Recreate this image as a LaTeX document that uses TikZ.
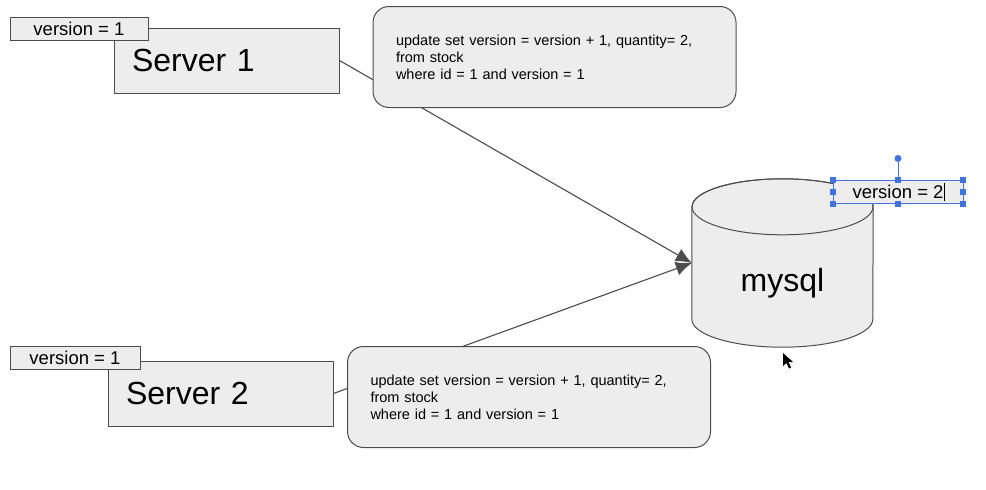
\documentclass[tikz,border=0pt]{standalone}
\usepackage{fontspec}
\setmainfont{Liberation Sans}
\usetikzlibrary{arrows.meta,positioning,calc,backgrounds}

\begin{document}
\begin{tikzpicture}[x=1pt,y=-1pt]
\colorlet{box edge}{black!70}
\colorlet{box area}{black!7}
\definecolor{pick}{RGB}{66,114,222}
\tikzset{
     plate/.style={draw=box edge, fill=box area, line width=1pt, inner sep=0pt},
     server/.style={plate, minimum width=225pt, minimum height=65pt, text width=189pt, align=left, font=\fontsize{32}{38}\selectfont},
     tag/.style={plate, minimum height=23pt, font=\fontsize{18.5}{22}\selectfont},
     query/.style={plate, rounded corners=16pt, minimum width=363pt, minimum height=101pt, text width=317pt, align=left, font=\fontsize{14.5}{17}\selectfont},
     link/.style={draw=black!70, line width=1.1pt, -{Latex[length=16pt,width=14pt]}},
     grip/.style={fill=pick, minimum size=6pt, inner sep=0pt}}

\useasboundingbox (0,0) rectangle (986,490);

% The servers
\node (server1) [server] at (226.5,60.5) {Server 1};
\node (server2) [server] at (220.5,393.5) {Server 2};

% The version tags
\node (tag1) [tag, minimum width=138pt] at (79,28.5) {version = 1};
\node (tag2) [tag, minimum width=130pt] at (75,358) {version = 1};

% The database
\node (db) [minimum width=181pt, minimum height=168pt, inner sep=0pt] at (782.5,263) {};
\draw [plate] ($(db.north west)+(0,28)$) -- ($(db.south west)+(0,-28)$)
   arc [start angle=180, end angle=360, x radius=90.5pt, y radius=28pt]
   -- ($(db.north east)+(0,28)$)
   arc [start angle=0, end angle=180, x radius=90.5pt, y radius=28pt] -- cycle;
\draw [draw=box edge, line width=1pt] ($(db.north)+(0,28)$) ellipse [x radius=90.5pt, y radius=28pt];
\node (dbname) [font=\fontsize{32}{38}\selectfont] at ([yshift=-20pt]db.center) {mysql};

% The links, behind the queries
\begin{scope}[on background layer]
  \draw [link] (server1.east) -- (db.west);
  \draw [link] (server2.east) -- (db.west);
\end{scope}

% The queries
\node (query1) [query] at (554.5,57) {update set version = version + 1, quantity= 2,\\from stock\\where id = 1 and version = 1};
\node (query2) [query] at (529,397) {update set version = version + 1, quantity= 2,\\from stock\\where id = 1 and version = 1};

% The new version, still selected
\node (tag3) [tag, draw=pick, line width=0.6pt, minimum width=130pt] at (898,192) {version = 2};
\draw [line width=0.9pt] ([xshift=46pt,yshift=9pt]tag3.center) -- ([xshift=46pt,yshift=-9pt]tag3.center);
\node (knob) [grip, circle, minimum size=7pt, above=18pt of tag3.north] {};
\draw [pick, line width=0.8pt] (tag3.north) -- (knob);
\foreach \a [count=\i] in {north west,north,north east,east,south east,south,south west,west}
  \node (grip\i) [grip] at (tag3.\a) {};

% The pointer
\fill (783,353) -- (783,366) -- (786.5,363) -- (789,368.5) -- (791,367.5) -- (788.5,362) -- (793,362) -- cycle;
\end{tikzpicture}
\end{document}
